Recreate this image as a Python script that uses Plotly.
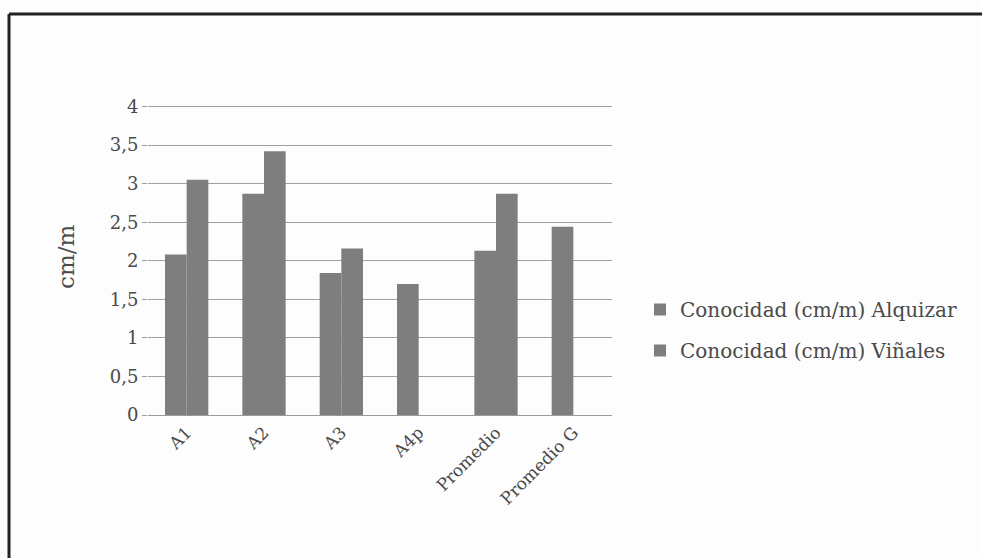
import plotly.graph_objects as go

categories = ["A1", "A2", "A3", "A4p", "Promedio", "Promedio G"]
alquizar = [2.08, 2.87, 1.84, 1.70, 2.13, 2.44]
vinales = [3.05, 3.42, 2.16, None, 2.87, None]
series_names = ["Conocidad (cm/m) Alquizar", "Conocidad (cm/m) Viñales"]
y_ticks = [0, 0.5, 1, 1.5, 2, 2.5, 3, 3.5, 4]
y_title = "cm/m"

BAR = "#7e7e7e"
FONT = "DejaVu Serif"
TXT = "#4a4a4a"

fig = go.Figure()
fig.add_trace(go.Bar(x=categories, y=alquizar, name=series_names[0],
                     marker=dict(color=BAR, line=dict(width=0)), legendgroup="a"))
fig.add_trace(go.Bar(x=categories, y=vinales, name=series_names[1],
                     marker=dict(color=BAR, line=dict(width=0)), legendgroup="b"))

W, H = 982, 558
L, R, T, B = 148, 370, 105, 143
pw, ph = W - L - R, H - T - B

def px_x(x):
    return (x - L) / pw

def px_y(y):
    return (H - B - y) / ph

fig.update_layout(
    width=W, height=H,
    margin=dict(l=L, r=R, t=T, b=B),
    paper_bgcolor="#fdfdfd", plot_bgcolor="#fdfdfd",
    barmode="group", bargap=0.44, bargroupgap=0,
    separators=", ",
    font=dict(family=FONT, color=TXT, size=16),
    showlegend=True,
    legend=dict(x=px_x(640), y=px_y(330), xanchor="left", yanchor="middle",
                font=dict(size=20, color=TXT, family=FONT),
                traceorder="grouped", tracegroupgap=12,
                itemwidth=30,
                bgcolor="rgba(0,0,0,0)"),
    xaxis=dict(tickangle=-45, showgrid=False, showline=True, linecolor="#9a9a9a",
               linewidth=1, ticks="", tickfont=dict(size=17, family=FONT, color=TXT)),
    yaxis=dict(range=[0, 4.02], tickvals=y_ticks, showgrid=True, gridcolor="#a0a0a0",
               gridwidth=1, zeroline=False, showline=False, ticks="outside", ticklen=5,
               tickcolor="#a0a0a0",
               tickfont=dict(size=18, family=FONT, color=TXT)),
    annotations=[dict(text=y_title, xref="paper", yref="paper", x=px_x(66), y=px_y(257),
                      xanchor="center", yanchor="middle", textangle=-90, showarrow=False,
                      font=dict(size=23, family=FONT, color=TXT))],
    shapes=[dict(type="line", xref="paper", yref="paper",
                 x0=px_x(9), x1=px_x(W + 20), y0=px_y(14), y1=px_y(14),
                 line=dict(color="#222222", width=3)),
            dict(type="line", xref="paper", yref="paper",
                 x0=px_x(9), x1=px_x(9), y0=px_y(14), y1=px_y(H + 20),
                 line=dict(color="#222222", width=3))],
)

fig.write_html("out.html")
